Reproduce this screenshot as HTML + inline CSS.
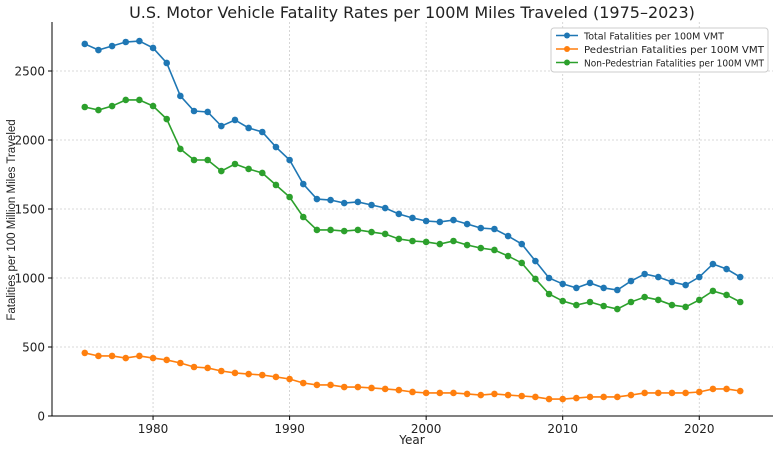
<!DOCTYPE html>
<html><head><meta charset="utf-8"><style>
body{margin:0;background:#fff;font-family:"DejaVu Sans","Liberation Sans",sans-serif}
</style></head><body>
<svg id="chart" width="780" height="452" xmlns="http://www.w3.org/2000/svg" font-family="DejaVu Sans, Liberation Sans, sans-serif"></svg>
<script>
const years=[];for(let y=1975;y<=2023;y++)years.push(y);
const totalVals=[2696,2652,2681,2710,2717,2667,2558,2319,2210,2203,2101,2145,2087,2058,1949,1855,1681,1572,1565,1543,1551,1529,1507,1464,1435,1413,1406,1420,1391,1362,1355,1304,1246,1123,1000,957,928,964,928,913,978,1029,1007,971,949,1007,1101,1065,1007];
const pedVals=[457,435,435,420,435,420,406,384,355,348,326,312,304,297,283,268,239,225,225,210,210,203,196,188,174,167,167,167,160,152,160,152,145,138,123,123,130,138,138,138,152,167,167,167,167,174,196,196,181];
const nonPedVals=[2239,2217,2246,2290,2290,2246,2152,1935,1855,1855,1775,1826,1790,1761,1674,1587,1442,1348,1348,1340,1348,1333,1319,1283,1268,1261,1246,1268,1239,1217,1203,1159,1109,993,884,833,804,826,797,775,826,862,841,804,790,841,906,877,826];
const xTicks=[1980,1990,2000,2010,2020];
const yTicks=[0,500,1000,1500,2000,2500];
const L=52,R=773,T=22,B=416;
const X=v=>L+(v-1972.6)/(2025.4-1972.6)*(R-L);
const Y=v=>B-v/2855*(B-T);
const svg=document.getElementById('chart');
const NS='http://www.w3.org/2000/svg';
function mk(t,a,p){const e=document.createElementNS(NS,t);for(const k in a)e.setAttribute(k,a[k]);(p||svg).appendChild(e);return e;}
const grid=mk('g',{});


xTicks.forEach(t=>{mk('line',{x1:X(t),x2:X(t),y1:T,y2:B,stroke:'#ccc','stroke-dasharray':'2,2','stroke-width':0.8},grid);
const tx=mk('text',{x:X(t),y:B+17,'text-anchor':'middle','font-size':12,fill:'#222'});tx.textContent=t;


mk('line',{x1:X(t),x2:X(t),y1:B,y2:B+4,stroke:'#000'});});
yTicks.forEach(t=>{mk('line',{x1:L,x2:R,y1:Y(t),y2:Y(t),stroke:'#ccc','stroke-dasharray':'2,2','stroke-width':0.8},grid);
const tx=mk('text',{x:L-7,y:Y(t)+4.5,'text-anchor':'end','font-size':12,fill:'#222'});tx.textContent=t;


mk('line',{x1:L-4,x2:L,y1:Y(t),y2:Y(t),stroke:'#000'});});
const ax=mk('path',{d:`M${L},${T}V${B}H${R}`,fill:'none',stroke:'#000','stroke-width':1});


const series=[[totalVals,'#1f77b4','total-series'],[pedVals,'#ff7f0e','pedestrian-series'],[nonPedVals,'#2ca02c','non-pedestrian-series']];
series.forEach(([vals,c,n])=>{const g=mk('g',{});


mk('polyline',{points:vals.map((v,i)=>X(years[i])+','+Y(v)).join(' '),fill:'none',stroke:c,'stroke-width':1.6},g);
vals.forEach((v,i)=>{const p=mk('circle',{cx:X(years[i]),cy:Y(v),r:3.3,fill:c},g);

});});
const title=mk('text',{x:412,y:18,'text-anchor':'middle','font-size':16,fill:'#222'});title.textContent='U.S. Motor Vehicle Fatality Rates per 100M Miles Traveled (1975–2023)';


const xt=mk('text',{x:412,y:444,'text-anchor':'middle','font-size':12,fill:'#222'});xt.textContent='Year';


const yt=mk('text',{x:15,y:220,'text-anchor':'middle','font-size':11.5,'font-family':'Liberation Sans, sans-serif',fill:'#222',transform:'rotate(-90 15 220)'});yt.textContent='Fatalities per 100 Million Miles Traveled';


const lg=mk('g',{});


mk('rect',{x:551,y:28,width:217,height:44,rx:3,fill:'#fff',stroke:'#ccc'},lg);
const names=['Total Fatalities per 100M VMT','Pedestrian Fatalities per 100M VMT','Non-Pedestrian Fatalities per 100M VMT'];
names.forEach((n,i)=>{const y=35.5+i*13.5;const c=series[i][1];
mk('line',{x1:556,x2:578,y1:y,y2:y,stroke:c,'stroke-width':1.6},lg);
mk('circle',{cx:567,cy:y,r:3,fill:c},lg);
const t=mk('text',{x:584,y:y+4,'font-size':10,fill:'#222',textLength:n.length>33?180:(n.length>30?160:140),lengthAdjust:'spacingAndGlyphs'},lg);t.textContent=n;

});
</script>
</body></html>
